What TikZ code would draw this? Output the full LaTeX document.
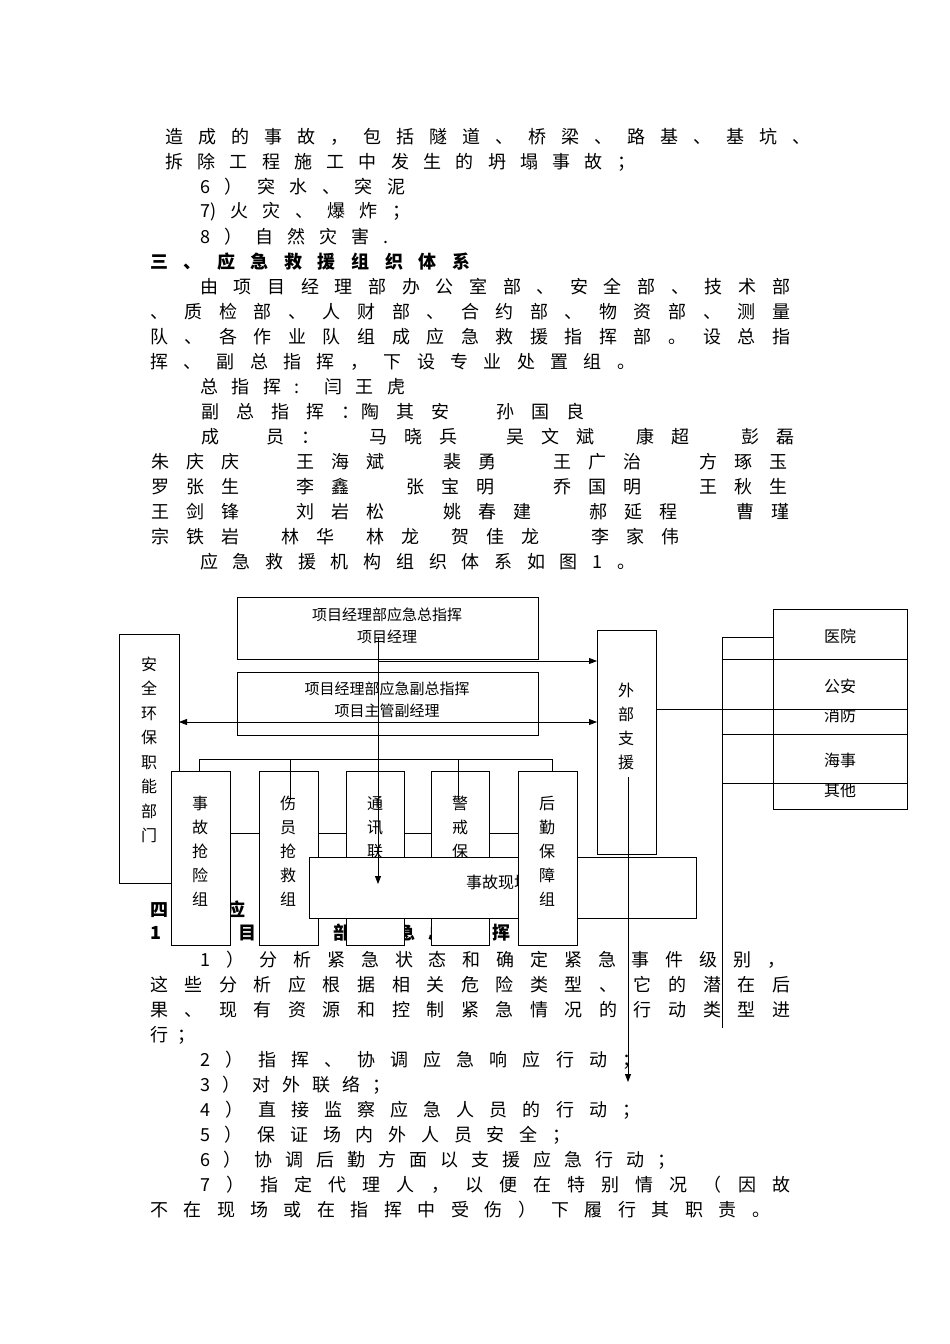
\documentclass[tikz,border=0pt]{standalone}
\usepackage{fontspec}
\setmainfont{Noto Sans CJK SC}
\usetikzlibrary{arrows.meta}
\newcommand\tl[4]{\node[anchor=west,inner sep=0pt,font=\fontsize{18}{18}\selectfont] at (#1,#2) {\makebox[#3pt][s]{#4}};}
\newcommand\nm[3]{\node[anchor=west,inner sep=0pt,font=\fontsize{18}{18}\selectfont] at (#1,#2) {\spaceskip=17pt\relax #3};}
\tikzset{bx/.style={draw,fill=white,line width=0.8pt},ln/.style={line width=0.8pt},
ar/.style={line width=0.8pt,-{Triangle[length=8pt,width=6pt]}},
df/.style={font=\fontsize{15}{22}\selectfont,align=center,inner sep=0pt}}
\begin{document}
\begin{tikzpicture}[x=1pt,y=-1pt]
\useasboundingbox (0,0) rectangle (950,1344);
% body text top
\tl{165}{137}{645}{造 成 的 事 故 ， 包 括 隧 道 、 桥 梁 、 路 基 、 基 坑 、}
\tl{165}{162}{470}{拆 除 工 程 施 工 中 发 生 的 坍 塌 事 故 ；}
\tl{200}{187}{205}{6 ） 突 水 、 突 泥}
\tl{200}{212}{210}{7) 火 灾 、 爆 炸 ；}
\tl{200}{237}{188}{8 ） 自 然 灾 害 .}
\tl{150}{262}{320}{\bfseries 三 、 应 急 救 援 组 织 体 系}
\tl{200}{287}{590}{由 项 目 经 理 部 办 公 室 部 、 安 全 部 、 技 术 部}
\tl{150}{312}{640}{、 质 检 部 、 人 财 部 、 合 约 部 、 物 资 部 、 测 量}
\tl{150}{337}{640}{队 、 各 作 业 队 组 成 应 急 救 援 指 挥 部 。 设 总 指}
\tl{150}{362}{485}{挥 、 副 总 指 挥 ， 下 设 专 业 处 置 组 。}
\tl{200}{387}{205}{总 指 挥 : 闫 王 虎}
\nm{201}{412}{副 总 指 挥 ：} \nm{361}{412}{陶 其 安} \nm{496}{412}{孙 国 良}
\nm{201}{437}{成} \nm{266}{437}{员 ：} \nm{369}{437}{马 晓 兵} \nm{506}{437}{吴 文 斌} \nm{636}{437}{康 超} \nm{741}{437}{彭 磊}
\nm{151}{462}{朱 庆 庆} \nm{296}{462}{王 海 斌} \nm{443}{462}{裴 勇} \nm{553}{462}{王 广 治} \nm{699}{462}{方 琢 玉}
\nm{151}{487}{罗 张 生} \nm{296}{487}{李 鑫} \nm{406}{487}{张 宝 明} \nm{553}{487}{乔 国 明} \nm{699}{487}{王 秋 生}
\nm{151}{512}{王 剑 锋} \nm{296}{512}{刘 岩 松} \nm{443}{512}{姚 春 建} \nm{589}{512}{郝 延 程} \nm{736}{512}{曹 瑾}
\nm{151}{537}{宗 铁 岩} \nm{281}{537}{林 华} \nm{366}{537}{林 龙} \nm{451}{537}{贺 佳 龙} \nm{591}{537}{李 家 伟}
\tl{200}{562}{435}{应 急 救 援 机 构 组 织 体 系 如 图 1 。}
% body text bottom
\tl{150}{910}{365}{\bfseries 四 、 应 急 救 援 组 织 职 责}
\tl{150}{933}{360}{\bfseries 1 、 项 目 经 理 部 应 急 总 指 挥}
\tl{200}{960}{585}{1 ） 分 析 紧 急 状 态 和 确 定 紧 急 事 件 级 别 ，}
\tl{150}{985}{640}{这 些 分 析 应 根 据 相 关 危 险 类 型 、 它 的 潜 在 后}
\tl{150}{1010}{640}{果 、 现 有 资 源 和 控 制 紧 急 情 况 的 行 动 类 型 进}
\tl{150}{1035}{45}{行 ；}
\tl{200}{1060}{440}{2 ） 指 挥 、 协 调 应 急 响 应 行 动 ；}
\tl{200}{1085}{190}{3 ） 对 外 联 络 ；}
\tl{200}{1110}{440}{4 ） 直 接 监 察 应 急 人 员 的 行 动 ；}
\tl{200}{1135}{370}{5 ） 保 证 场 内 外 人 员 安 全 ；}
\tl{200}{1160}{475}{6 ） 协 调 后 勤 方 面 以 支 援 应 急 行 动 ；}
\tl{200}{1185}{590}{7 ） 指 定 代 理 人 ， 以 便 在 特 别 情 况 （ 因 故}
\tl{150}{1210}{620}{不 在 现 场 或 在 指 挥 中 受 伤 ） 下 履 行 其 职 责 。}
% diagram
\node[bx,minimum width=301pt,minimum height=62pt,anchor=north west] (top) at (237,597) {};
\node[df] at (387,626) {项目经理部应急总指挥\\项目经理};
\node[bx,minimum width=301pt,minimum height=63pt,anchor=north west] (sec) at (237,672) {};
\node[df] at (387,700) {项目经理部应急副总指挥\\项目主管副经理};
\node[bx,minimum width=60pt,minimum height=249pt,anchor=north west] (aq) at (119,634) {};
\node[df,font=\fontsize{16}{24.5}\selectfont] at (149,750) {安\\全\\环\\保\\职\\能\\部\\门};
\node[bx,minimum width=59pt,minimum height=224pt,anchor=north west] (wb) at (597,630) {};
\node[df,font=\fontsize{16}{24}\selectfont] at (626,726) {外\\部\\支\\援};
% right stack
\node[bx,minimum width=134pt,minimum height=50pt,anchor=north west] (r5) at (773,759) {};
\node[df,font=\fontsize{16}{20}\selectfont] at (840,790) {其他};
\node[bx,minimum width=134pt,minimum height=50pt,anchor=north west] (r3) at (773,684) {};
\node[df,font=\fontsize{16}{20}\selectfont] at (840,715) {消防};
\node[bx,minimum width=134pt,minimum height=50pt,anchor=north west] (r1) at (773,609) {};
\node[df,font=\fontsize{16}{20}\selectfont] at (840,636) {医院};
\node[bx,minimum width=134pt,minimum height=50pt,anchor=north west] (r2) at (773,659) {};
\node[df,font=\fontsize{16}{20}\selectfont] at (840,686) {公安};
\node[bx,minimum width=134pt,minimum height=49pt,anchor=north west] (r4) at (773,734) {};
\node[df,font=\fontsize{16}{20}\selectfont] at (840,760) {海事};
\coordinate (v1) at (722,637); \coordinate (v2) at (722,1028);
\draw[ln] (v1) -- (v2);
\foreach \yy in {637,659,734,783} \draw[ln] (722,\yy) -- (773,\yy);
\draw[ln] (656,709) -- (773,709);
% arrows
\draw[ln] (199,771) -- (199,759) -- (552,759) -- (552,771);
\draw[ln] (290,759) -- (290,771); \draw[ln] (458,759) -- (458,771);
\draw[ln] (171,833) -- (577,833);
\coordinate (d1) at (179,722); \coordinate (d2) at (597,722);
\draw[line width=0.8pt,{Triangle[length=8pt,width=6pt]}-{Triangle[length=8pt,width=6pt]}] (d1) -- (d2);
\draw[ar] (378,661) -- (wb.west|-378,661);
% groups
\node[bx,minimum width=59pt,minimum height=174pt,anchor=north west] (g1) at (171,771) {};
\node[df,font=\fontsize{16}{24}\selectfont,anchor=north] at (200,796) {事\\故\\抢\\险\\组};
\node[bx,minimum width=59pt,minimum height=174pt,anchor=north west] (g2) at (259,771) {};
\node[df,font=\fontsize{16}{24}\selectfont,anchor=north] at (288,796) {伤\\员\\抢\\救\\组};
\node[bx,minimum width=58pt,minimum height=174pt,anchor=north west] (g3) at (346,771) {};
\node[df,font=\fontsize{16}{24}\selectfont,anchor=north] at (375,796) {通\\讯\\联\\络\\组};
\node[bx,minimum width=58pt,minimum height=174pt,anchor=north west] (g4) at (431,771) {};
\node[df,font=\fontsize{16}{24}\selectfont,anchor=north] at (460,796) {警\\戒\\保\\卫\\组};
\draw[ln] (199,759) -- (199,771); \draw[ln] (290,759) -- (290,800); \draw[ln] (458,759) -- (458,800);
\node[bx,minimum width=387pt,minimum height=61pt,anchor=north west] (xc) at (309,857) {};
\node[df,anchor=west,font=\fontsize{16}{20}\selectfont] at (466,882) {事故现场};
\node[bx,minimum width=59pt,minimum height=174pt,anchor=north west] (g5) at (518,771) {};
\node[df,font=\fontsize{16}{24}\selectfont,anchor=north] at (547,796) {后\\勤\\保\\障\\组};
\draw[ln] (552,759) -- (552,771);
\coordinate (a1) at (378,637); \coordinate (a2) at (378,884);
\draw[ar] (a1) -- (a2);
\coordinate (b1) at (628,777); \coordinate (b2) at (628,1082);
\draw[ar] (b1) -- (b2);
\end{tikzpicture}
\end{document}
